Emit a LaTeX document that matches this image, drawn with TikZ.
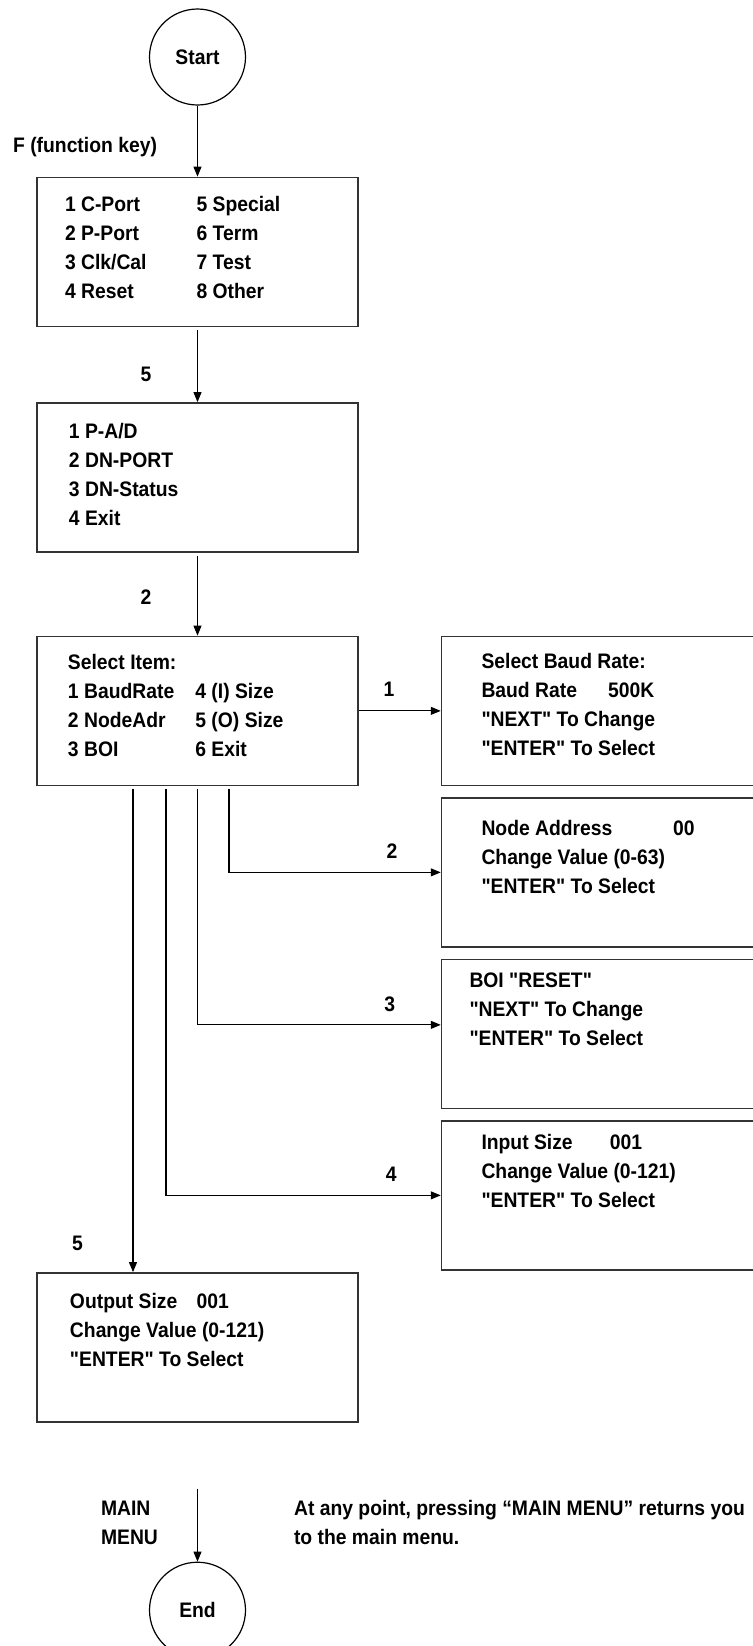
\documentclass[tikz,border=0pt]{standalone}
\usepackage{fontspec}
\setmainfont{Liberation Sans}[FakeStretch=0.92, Ligatures=TeXOff]
\usetikzlibrary{positioning, arrows.meta}
\definecolor{boxframe}{HTML}{333333}
\newcommand{\boxfont}{\fontsize{10.5pt}{14.5pt}\selectfont\bfseries}
% text block of a menu box: top gap, left indent, lines
\newcommand{\menutext}[3]{\parbox[c][74.5pt][t]{160.5pt}{\vspace*{#1}\begin{tabular}[t]{@{\hspace{#2}}l@{}}#3\end{tabular}}}
\tikzset{
  menubox/.style={
    draw=boxframe,
    line width=0.75pt,
    rectangle,
    inner sep=0pt,
    minimum width=160.5pt,
    minimum height=74.5pt,
    font=\boxfont
  },
  termnode/.style={draw, circle, line width=0.6pt, inner sep=0pt, minimum size=48pt, font=\boxfont},
  arr/.style={-{Triangle[length=5pt, width=4pt]}, line width=0.55pt},
  arrgap/.style={arr, shorten <=1.5pt},
  lbl/.style={font=\boxfont, inner sep=0pt}
}

\begin{document}
\begin{tikzpicture}[
    node distance=5.5pt,
    >={Triangle[length=5pt, width=4pt]}
  ]
  \useasboundingbox (0,0) rectangle (376.5pt,-823pt);
  \clip (0,0) rectangle (376.5pt,-823pt);

  % Main column, top to bottom
  \node[termnode] (st) at (98.75pt,-28.5pt) {Start};
  \node[menubox, below=35.5pt of st] (fk) {\menutext{7.1pt}{14pt}{%
    \makebox[65.8pt][l]{1 C-Port}5 Special\\
    \makebox[65.8pt][l]{2 P-Port}6 Term\\
    \makebox[65.8pt][l]{3 Clk/Cal}7 Test\\
    \makebox[65.8pt][l]{4 Reset}8 Other}};
  \node[menubox, below=37.5pt of fk] (sp) {\menutext{7.6pt}{16pt}{%
    1 P-A/D\\2 DN-PORT\\3 DN-Status\\4 Exit}};
  \node[menubox, below=41.5pt of sp] (sel) {\menutext{6.6pt}{15.5pt}{%
    Select Item:\\
    \makebox[63.7pt][l]{1 BaudRate}4 (I) Size\\
    \makebox[63.7pt][l]{2 NodeAdr}5 (O) Size\\
    \makebox[63.7pt][l]{3 BOI}6 Exit}};

  % Right column: one box per item
  \node[menubox, right=41pt of sel] (br) {\menutext{6.1pt}{20pt}{%
    Select Baud Rate:\\
    \makebox[63.3pt][l]{Baud Rate}500K\\
    "NEXT" To Change\\
    "ENTER" To Select}};
  \node[menubox, below=of br] (na) {\menutext{8.6pt}{20pt}{%
    \makebox[95.8pt][l]{Node Address}00\\
    Change Value (0-63)\\
    "ENTER" To Select}};
  \node[menubox, below=of na] (boi) {\menutext{4.1pt}{14pt}{%
    BOI "RESET"\\
    "NEXT" To Change\\
    "ENTER" To Select}};
  \node[menubox, below=of boi] (is) {\menutext{4.1pt}{20pt}{%
    \makebox[64.2pt][l]{Input Size}001\\
    Change Value (0-121)\\
    "ENTER" To Select}};

  \node[menubox, below=243pt of sel] (os) {\menutext{7.6pt}{16.5pt}{%
    \makebox[63.3pt][l]{Output Size}001\\
    Change Value (0-121)\\
    "ENTER" To Select}};
  \node[termnode, below=69.5pt of os] (en) {End};
  \coordinate[above=36.5pt of en] (mm);

  % Branch starts under the Select Item box
  \coordinate (b2) at ([xshift=15.75pt, yshift=-1.5pt]sel.south);
  \coordinate (b3) at ([yshift=-1.5pt]sel.south);
  \coordinate (b4) at ([xshift=-15.75pt, yshift=-1.5pt]sel.south);
  \coordinate (b5) at ([xshift=-32.25pt, yshift=-1.5pt]sel.south);

  \draw[arr] (st) -- node[lbl, left=20pt, pos=0.58] {F (function key)} (fk);
  \draw[arrgap] (fk) -- node[lbl, left=22.8pt, pos=0.625] {5} (sp);
  \draw[arrgap] (sp) -- node[lbl, left=22.8pt, pos=0.54] {2} (sel);

  \draw[arr] (sel) -- node[lbl, above=7pt, pos=0.37] {1} (br);
  \draw[arr] (b2) |- node[lbl, above=6.75pt, pos=0.885] {2} (na);
  \draw[arr] (b3) |- node[lbl, above=6.25pt, pos=0.895] {3} ([yshift=4.5pt]boi.west);
  \draw[arr] (b4) |- node[lbl, above=6.75pt, pos=0.91] {4} (is);
  \draw[arr] (b5) -- node[lbl, left=24.8pt, pos=0.94] {5} (b5 |- os.north);

  \draw[arr] (mm) -- node[lbl, left=19.5pt, pos=0.47, align=left] {MAIN\\MENU}
    node[lbl, right=48pt, pos=0.47, align=left] {At any point, pressing “MAIN MENU” returns you\\to the main menu.} (en);

\end{tikzpicture}
\end{document}
